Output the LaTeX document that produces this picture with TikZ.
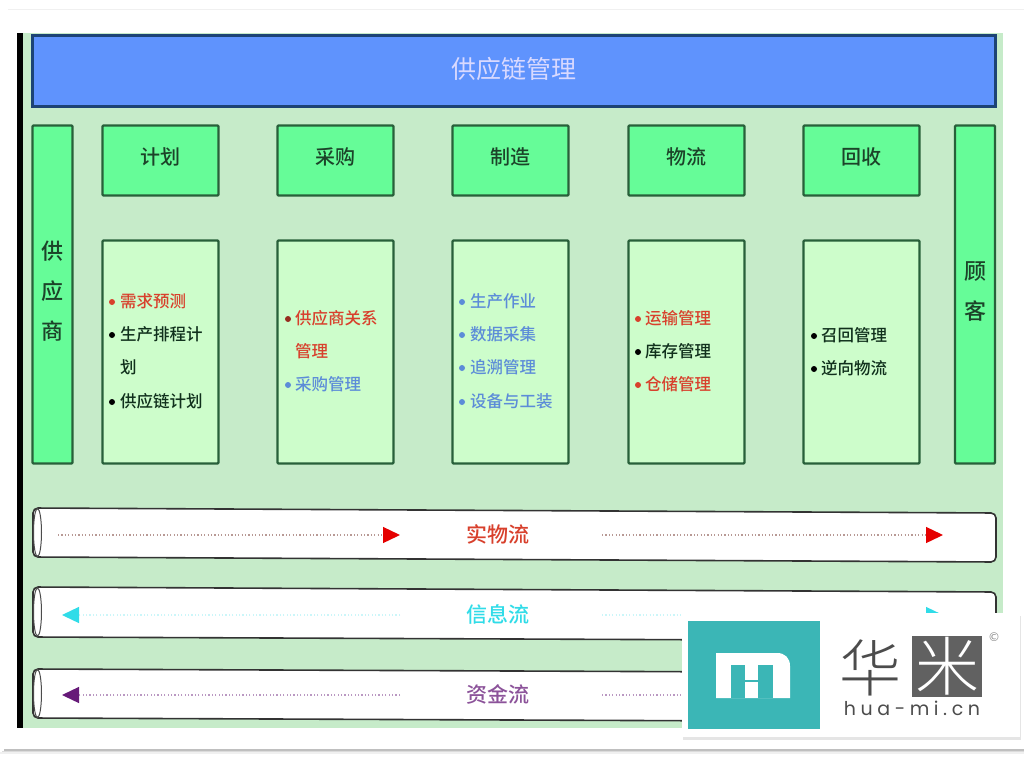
\documentclass[tikz,border=0pt]{standalone}
\usepackage{fontspec}
\setmainfont{Noto Sans CJK SC}
\newfontfamily\thinfont{Noto Sans CJK SC Light}
\newfontfamily\midfont{Noto Sans CJK SC Medium}
\newfontfamily\latinfont[LetterSpace=24]{Poppins}
\newfontfamily\markfont{DejaVu Sans}
\usetikzlibrary{arrows.meta,shadows}
\definecolor{panelgreen}{HTML}{C6EBC9}
\definecolor{headgreen}{HTML}{66FC98}
\definecolor{itemgreen}{HTML}{CDFDCB}
\definecolor{edgegreen}{HTML}{28603A}
\definecolor{bannerblue}{HTML}{5F93FD}
\definecolor{itemred}{HTML}{D8402C}
\definecolor{itemblue}{HTML}{5C8CD8}
\definecolor{itemblack}{HTML}{10301C}
\definecolor{flowcyan}{HTML}{30DCE8}
\definecolor{flowpurple}{HTML}{661A78}
\definecolor{logoteal}{HTML}{3BB6B6}
\tikzset{
  headbox/.style={draw=edgegreen,line width=2.2pt,fill=headgreen,rounded corners=1pt,minimum width=116pt,minimum height=70pt,font=\midfont\fontsize{20}{24}\selectfont,text=edgegreen!70!black,text depth=9pt},
  listbox/.style={draw=edgegreen,line width=2.2pt,fill=itemgreen,rounded corners=1pt,minimum width=116pt,minimum height=223pt},
  sidebox/.style={draw=edgegreen,line width=2.2pt,fill=headgreen,rounded corners=1pt,minimum width=40pt,minimum height=338pt,font=\midfont\fontsize{22}{40}\selectfont,text=edgegreen!70!black,align=center,text depth=8pt},
  tube/.style={draw=black!80,line width=1.6pt,fill=white,rounded corners=5pt},
  listtext/.style={anchor=west,inner sep=0pt,font=\midfont\fontsize{16.5}{20}\selectfont},
  dotmark/.style={circle,inner sep=0pt,minimum size=6pt},
  flowtext/.style={font=\midfont\fontsize{21}{24}\selectfont},
  flowline/.style={dash pattern=on 1.2pt off 2.2pt,line width=1.3pt},
}
\begin{document}
\begin{tikzpicture}[x=1pt,y=-1pt]
\useasboundingbox (0,0) rectangle (1024,768);
\fill[white] (0,0) rectangle (1024,768);
% frame of the page
\draw[black!6,line width=1pt] (8,10) -- (1024,10);
\draw[black!25,line width=1.5pt] (4,750) -- (1024,750);
\draw[black!14,line width=1.5pt] (2,751.5) -- (1024,751.5);
\draw[black!6,line width=2pt] (0,753) -- (1024,753);
\fill[panelgreen] (17,33) rectangle (1003,728);
\fill[black] (17,33) rectangle (23,728);
% top row
\node[draw=edgegreen!70!blue,line width=2.2pt,fill=bannerblue,minimum width=963pt,minimum height=71pt,text=blue!15!white,font=\fontsize{25}{30}\selectfont,text depth=6pt] (banner) at (514,71) {供应链管理};
\node[sidebox] (supplier) at (52.5,294.5) {供\\应\\商};
\node[sidebox] (customer) at (975,294.5) {顾\\客};
\node[headbox] (plan) at (160.5,160.5) {计划};
\node[headbox] (buy) at (335.5,160.5) {采购};
\node[headbox] (make) at (510.5,160.5) {制造};
\node[headbox] (ship) at (686.5,160.5) {物流};
\node[headbox] (back) at (861.5,160.5) {回收};
\node[listbox] (planlist) at (160.5,352) {};
\node[listbox] (buylist) at (335.5,352) {};
\node[listbox] (makelist) at (510.5,352) {};
\node[listbox] (shiplist) at (686.5,352) {};
\node[listbox] (backlist) at (861.5,352) {};
% plan
\node[dotmark,fill=itemred] (d1) at (112,302) {};
\node[listtext,text=itemred] (t1) at (120,301) {需求预测};
\node[dotmark,fill=black] (d2) at (112,335) {};
\node[listtext,text=itemblack] (t2) at (120,334) {生产排程计};
\node[listtext,text=itemblack] (t2b) at (120,367) {划};
\node[dotmark,fill=black] (d3) at (112,402) {};
\node[listtext,text=itemblack] (t3) at (120,401) {供应链计划};
% buy
\node[dotmark,fill=itemred!70!black] (d4) at (288,319) {};
\node[listtext,text=itemred] (t4) at (295,318) {供应商关系};
\node[listtext,text=itemred] (t4b) at (295,351) {管理};
\node[dotmark,fill=itemblue] (d5) at (288,385) {};
\node[listtext,text=itemblue] (t5) at (295,384) {采购管理};
% make
\node[dotmark,fill=itemblue] (d6) at (462,302) {};
\node[listtext,text=itemblue] (t6) at (470,301) {生产作业};
\node[dotmark,fill=itemblue] (d7) at (462,335) {};
\node[listtext,text=itemblue] (t7) at (470,334) {数据采集};
\node[dotmark,fill=itemblue] (d8) at (462,368) {};
\node[listtext,text=itemblue] (t8) at (470,367) {追溯管理};
\node[dotmark,fill=itemblue] (d9) at (462,402) {};
\node[listtext,text=itemblue] (t9) at (470,401) {设备与工装};
% ship
\node[dotmark,fill=itemred] (d10) at (638,319) {};
\node[listtext,text=itemred] (t10) at (645,318) {运输管理};
\node[dotmark,fill=black] (d11) at (638,352) {};
\node[listtext,text=itemblack] (t11) at (645,351) {库存管理};
\node[dotmark,fill=itemred] (d12) at (638,385) {};
\node[listtext,text=itemred] (t12) at (645,384) {仓储管理};
% back
\node[dotmark,fill=black] (d13) at (814,336) {};
\node[listtext,text=itemblack] (t13) at (821,335) {召回管理};
\node[dotmark,fill=black] (d14) at (814,369) {};
\node[listtext,text=itemblack] (t14) at (821,368) {逆向物流};
% flows
\draw[tube] (33,508) -- (996,513) -- (996,562) -- (33,557) -- cycle;
\draw[tube] (33,587) -- (996,592) -- (996,641) -- (33,637) -- cycle;
\draw[tube] (33,669) -- (996,673) -- (996,722) -- (33,718) -- cycle;
\draw[black!70,line width=1pt] (37.5,532.5) ellipse (4 and 24);
\draw[black!70,line width=1pt] (37.5,612) ellipse (4 and 24);
\draw[black!70,line width=1pt] (37.5,693.5) ellipse (4 and 24);
\node[flowtext,text=itemred] (real) at (498,534) {实物流};
\node[flowtext,text=flowcyan] (info) at (498,614) {信息流};
\node[flowtext,text=flowpurple!75] (cash) at (498,694) {资金流};
\coordinate (r1) at (58,535);
\coordinate (r2) at (400,535);
\coordinate (r3) at (602,535);
\coordinate (r4) at (943,535);
\coordinate (i1) at (400,615);
\coordinate (i2) at (62,615);
\coordinate (i3) at (602,615);
\coordinate (i4) at (943,615);
\coordinate (c1) at (400,695);
\coordinate (c2) at (62,695);
\coordinate (c3) at (602,695);
\coordinate (c4) at (943,695);
\draw[flowline,draw=itemred!45!black!45,-{Triangle[length=17pt,width=16pt,color=red!90!black]}] (r1) -- (r2);
\draw[flowline,draw=itemred!45!black!45,-{Triangle[length=17pt,width=16pt,color=red!90!black]}] (r3) -- (r4);
\draw[flowline,draw=flowcyan!25,-{Triangle[length=17pt,width=16pt,color=flowcyan]}] (i1) -- (i2);
\draw[flowline,draw=flowcyan!25,-{Triangle[length=17pt,width=16pt,color=flowcyan]}] (i3) -- (i4);
\draw[flowline,draw=flowpurple!45,-{Triangle[length=17pt,width=16pt,color=flowpurple]}] (c1) -- (c2);
\draw[flowline,draw=flowpurple!45,-{Triangle[length=17pt,width=16pt,color=flowpurple]}] (c3) -- (c4);
% logo card
\fill[white,drop shadow={shadow xshift=1pt,shadow yshift=-3pt,opacity=.2}] (682,613) rectangle (1020,737);
\fill[logoteal] (688,621) rectangle (820,729);
\fill[white] (716,698) -- (716,653) -- (777,653) .. controls (785,653) and (790,658) .. (790,666) -- (790,698) -- cycle;
\fill[logoteal] (731,665) rectangle (745,698);
\fill[logoteal] (758,665) rectangle (773,698);
\fill[logoteal] (745,680) rectangle (758,682);
\fill[black!62] (912,636) rectangle (982,697);
\node[text=black!70,inner sep=0pt,font=\thinfont\fontsize{62}{64}\selectfont] (hua) at (870,668) {华};
\node[text=white,inner sep=0pt,font=\thinfont\fontsize{64}{66}\selectfont] (mi) at (947,666) {米};
\node[text=black!70,inner sep=0pt,font=\latinfont\fontsize{19}{22}\selectfont] (site) at (912,708) {hua-mi.cn};
\node[text=black!45,inner sep=0pt,font=\markfont\fontsize{12}{12}\selectfont] (reg) at (994,637) {©};
\end{tikzpicture}
\end{document}
